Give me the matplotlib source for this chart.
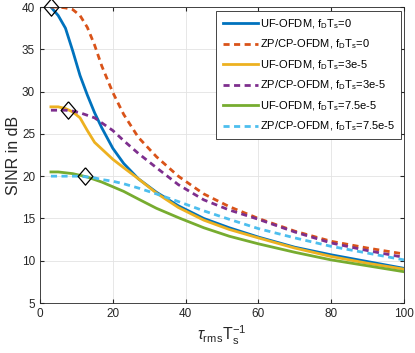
import numpy as np
import matplotlib
matplotlib.use("Agg")
import matplotlib.pyplot as plt

plt.rcParams['font.family'] = ['Liberation Sans', 'DejaVu Sans']
plt.rcParams['mathtext.fontset'] = 'custom'
plt.rcParams['mathtext.rm'] = 'Liberation Sans'
plt.rcParams['mathtext.it'] = 'Liberation Sans:italic'

# tau_rms / Ts
x = [3, 5, 7, 9, 11, 13, 15, 17, 20, 23, 27, 32, 38, 45, 52, 60, 70, 80, 90, 100]

uf_0 = [40.0, 39.0, 37.5, 34.8, 31.9, 29.6, 27.5, 25.7, 23.3, 21.5, 19.7, 18.1, 16.5, 15.0, 13.9, 12.8, 11.6, 10.7, 9.9, 9.1]
zp_0 = [40.0, 40.0, 39.9, 39.7, 39.0, 37.6, 35.5, 33.0, 29.9, 27.3, 24.6, 22.3, 20.0, 17.9, 16.4, 15.0, 13.5, 12.3, 11.5, 10.8]
uf_3 = [28.2, 28.2, 28.0, 27.6, 26.9, 25.4, 24.0, 23.2, 22.0, 21.0, 19.7, 18.0, 16.3, 14.8, 13.7, 12.7, 11.5, 10.5, 9.7, 9.0]
zp_3 = [27.8, 27.8, 27.8, 27.7, 27.5, 27.2, 26.9, 26.3, 25.4, 24.2, 22.7, 21.0, 19.0, 17.2, 16.0, 14.9, 13.4, 12.1, 11.2, 10.4]
uf_75 = [20.5, 20.5, 20.4, 20.3, 20.1, 19.9, 19.6, 19.3, 18.75, 18.2, 17.3, 16.2, 15.1, 13.9, 12.9, 12.0, 11.0, 10.1, 9.4, 8.7]
zp_75 = [20.0, 20.0, 20.0, 20.0, 20.0, 19.9, 19.8, 19.6, 19.4, 19.1, 18.6, 17.9, 17.0, 15.9, 14.9, 13.8, 12.7, 11.7, 10.9, 10.1]

# diamond markers
mark_x = [3, 7.7, 12.3]
mark_y = [40, 27.8, 20]

labels = ['UF-OFDM, f$_\\mathrm{D}$T$_\\mathrm{s}$=0',
          'ZP/CP-OFDM, f$_\\mathrm{D}$T$_\\mathrm{s}$=0',
          'UF-OFDM, f$_\\mathrm{D}$T$_\\mathrm{s}$=3e-5',
          'ZP/CP-OFDM, f$_\\mathrm{D}$T$_\\mathrm{s}$=3e-5',
          'UF-OFDM, f$_\\mathrm{D}$T$_\\mathrm{s}$=7.5e-5',
          'ZP/CP-OFDM, f$_\\mathrm{D}$T$_\\mathrm{s}$=7.5e-5']
colors = ['#0072BD', '#D95319', '#EDB120', '#7E2F8E', '#77AC30', '#4DBEEE']
series = [uf_0, zp_0, uf_3, zp_3, uf_75, zp_75]

fig = plt.figure(figsize=(4.15, 3.53), dpi=100)
ax = fig.add_axes([0.0964, 0.1416, 0.877, 0.8384])

for i, y in enumerate(series):
    if i % 2 == 0:
        ax.plot(x, y, color=colors[i], lw=2, label=labels[i])
    else:
        ax.plot(x, y, color=colors[i], lw=2, dashes=(2.2, 1.6), label=labels[i])

# tall diamond, a bit like matlab's
diam = [(0, 1), (0.85, 0), (0, -1), (-0.85, 0), (0, 1)]
ax.plot(mark_x, mark_y, marker=diam, ms=12.5, mfc='none', mec='black', mew=0.9,
        ls='none', clip_on=False, zorder=5)

ax.set_xlim(0, 100)
ax.set_ylim(5, 40)
ax.set_xticks(np.arange(0, 101, 20))
ax.set_yticks(np.arange(5, 41, 5))
ax.grid(True, color='#e3e3e3', lw=0.6)
ax.set_axisbelow(True)
ax.tick_params(direction='in', top=True, right=True, labelsize=8.5, colors='#262626', length=3)
for s in ax.spines.values():
    s.set_color('#262626')
    s.set_linewidth(0.6)

ax.set_xlabel(r'$\tau_\mathrm{rms}\mathrm{T}_\mathrm{s}^{-1}$', fontsize=11.5, color='#262626', labelpad=3)
ax.set_ylabel('SINR in dB', fontsize=11.5, color='#262626', labelpad=1)

leg = ax.legend(loc='upper right', bbox_to_anchor=(0.992, 0.986), fontsize=8.0,
                handlelength=3.2, handletextpad=0.15, borderpad=0.55, labelspacing=0.62,
                borderaxespad=0, fancybox=False, framealpha=1, edgecolor='#262626')
leg.get_frame().set_linewidth(0.6)

fig.savefig('out.png', dpi=100)
